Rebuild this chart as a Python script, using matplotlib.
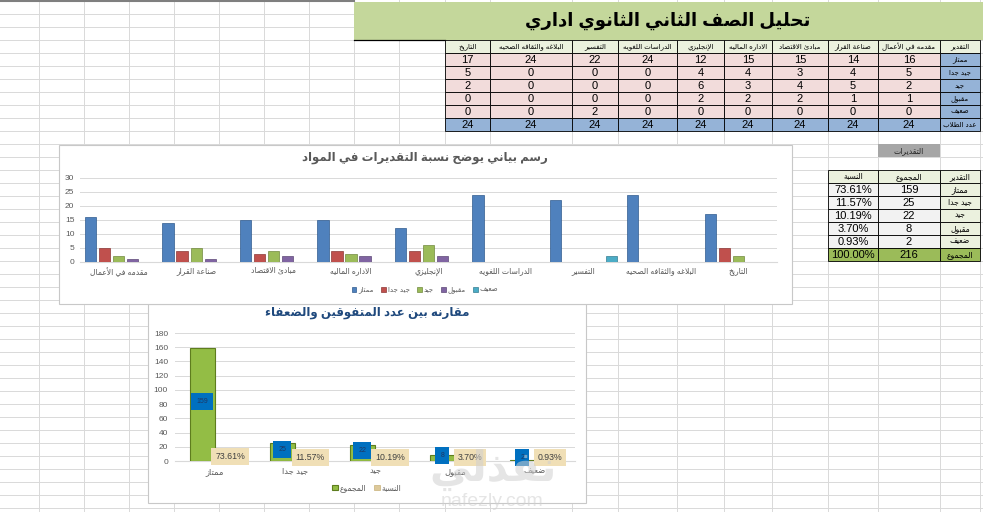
import matplotlib
matplotlib.use('Agg')
import matplotlib.pyplot as plt
from matplotlib.patches import Rectangle
import numpy as np

plt.rcParams['font.family'] = ['Liberation Sans', 'DejaVu Sans']

# البيانات
title_main = 'تحليل الصف الثاني الثانوي اداري'
subjects = ['مقدمه في الأعمال', 'صناعة القرار', 'مبادئ الاقتصاد', 'الاداره الماليه', 'الإنجليزي',
            'الدراسات اللغويه', 'التفسير', 'البلاغه والثقافه الصحيه', 'التاريخ']
grades = ['ممتاز', 'جيد جدا', 'جيد', 'مقبول', 'ضعيف']
excellent = [16, 14, 15, 15, 12, 24, 22, 24, 17]
very_good = [5, 4, 3, 4, 4, 0, 0, 0, 5]
good = [2, 5, 4, 3, 6, 0, 0, 0, 2]
passed = [1, 1, 2, 2, 2, 0, 0, 0, 0]
weak = [0, 0, 0, 0, 0, 0, 2, 0, 0]
students = [24, 24, 24, 24, 24, 24, 24, 24, 24]
students_label = 'عدد الطلاب'
grade_header = 'التقدير'

totals = [159, 25, 22, 8, 2]
total_all = 216
percents = [73.61, 11.57, 10.19, 3.70, 0.93]
percent_all = 100.00
summary_title = 'التقديرات'
summary_headers = ['النسبة', 'المجموع', 'التقدير']
total_label = 'المجموع'

chart1_title = 'رسم بياني يوضح نسبة التقديرات في المواد'
chart2_title = 'مقارنه بين عدد المتفوقين والضعفاء'
chart2_series = ['المجموع', 'النسبة']

# تشكيل الحروف العربية يدويا (لا يوجد arabic_reshaper)
FORMS = {
    'ء': (0xFE80, 1), 'آ': (0xFE81, 2), 'أ': (0xFE83, 2), 'ؤ': (0xFE85, 2), 'إ': (0xFE87, 2),
    'ئ': (0xFE89, 4), 'ا': (0xFE8D, 2), 'ب': (0xFE8F, 4), 'ة': (0xFE93, 2), 'ت': (0xFE95, 4),
    'ث': (0xFE99, 4), 'ج': (0xFE9D, 4), 'ح': (0xFEA1, 4), 'خ': (0xFEA5, 4), 'د': (0xFEA9, 2),
    'ذ': (0xFEAB, 2), 'ر': (0xFEAD, 2), 'ز': (0xFEAF, 2), 'س': (0xFEB1, 4), 'ش': (0xFEB5, 4),
    'ص': (0xFEB9, 4), 'ض': (0xFEBD, 4), 'ط': (0xFEC1, 4), 'ظ': (0xFEC5, 4), 'ع': (0xFEC9, 4),
    'غ': (0xFECD, 4), 'ف': (0xFED1, 4), 'ق': (0xFED5, 4), 'ك': (0xFED9, 4), 'ل': (0xFEDD, 4),
    'م': (0xFEE1, 4), 'ن': (0xFEE5, 4), 'ه': (0xFEE9, 4), 'و': (0xFEED, 2), 'ى': (0xFEEF, 2),
    'ي': (0xFEF1, 4),
}
LAM_ALEF = {'ا': 0xFEFB, 'أ': 0xFEF7, 'إ': 0xFEF9, 'آ': 0xFEF5}


def ar(text):
    chars = []
    i = 0
    while i < len(text):
        c = text[i]
        if c == 'ل' and i + 1 < len(text) and text[i + 1] in LAM_ALEF:
            chars.append(('LA', text[i + 1]))
            i += 2
        else:
            chars.append((c, None))
            i += 1

    def joins_next(p):
        return p is not None and p in FORMS and FORMS[p][1] == 4

    def is_letter(n):
        return n is not None and (n in FORMS or n == 'LA')

    out = []
    for j, (c, extra) in enumerate(chars):
        prev = chars[j - 1][0] if j > 0 else None
        nxt = chars[j + 1][0] if j + 1 < len(chars) else None
        if c == 'LA':
            base = LAM_ALEF[extra]
            out.append(chr(base + 1 if joins_next(prev) else base))
            continue
        if c not in FORMS:
            out.append(c)
            continue
        base, n = FORMS[c]
        jp = joins_next(prev)
        jn = n == 4 and is_letter(nxt)
        if n == 1:
            out.append(chr(base))
        elif jp and jn:
            out.append(chr(base + 3))
        elif jp:
            out.append(chr(base + 1))
        elif jn:
            out.append(chr(base + 2))
        else:
            out.append(chr(base))
    return ''.join(reversed(out))


W, H = 983, 512
fig = plt.figure(figsize=(W / 100, H / 100), dpi=100)
bg = fig.add_axes([0, 0, 1, 1])
bg.set_xlim(0, W)
bg.set_ylim(H, 0)
bg.axis('off')


def px_axes(x0, y0, x1, y1):
    return fig.add_axes([x0 / W, 1 - y1 / H, (x1 - x0) / W, (y1 - y0) / H])


# خطوط شبكة الاكسل
col_lines = [39, 84, 129, 174, 219, 264, 309, 354, 399, 445, 490, 572, 618, 677, 724, 772, 828, 878, 940, 980]
for x in col_lines:
    bg.plot([x, x], [0, H], color='#d9d9d9', lw=0.7, zorder=1)
for k in range(1, 40):
    y = 1 + 13 * k
    bg.plot([0, W], [y, y], color='#d9d9d9', lw=0.7, zorder=1)
bg.plot([0, 354], [1, 1], color='#7f7f7f', lw=1.5, zorder=1)

# شريط العنوان
bg.add_patch(Rectangle((354, 2), W - 354, 38, facecolor='#c4d79b', edgecolor='none', zorder=2))
bg.plot([354, 445], [40, 40], color='black', lw=0.9, zorder=3)
bg.text(668, 21, ar(title_main), ha='center', va='center', fontsize=13, fontweight='bold',
        color='black', zorder=4)

# الجدول الأول
edges = [980, 940, 878, 828, 772, 724, 677, 618, 572, 490, 445]
row_y = [40, 53, 66, 79, 92, 105, 118, 131]
series = [excellent, very_good, good, passed, weak]


def cell(x0, x1, y0, y1, color, text, size, tcolor='black'):
    bg.add_patch(Rectangle((x0, y0), x1 - x0, y1 - y0, facecolor=color, edgecolor='black',
                           lw=0.6, zorder=3))
    bg.text((x0 + x1) / 2, (y0 + y1) / 2 + 0.5, text, ha='center', va='center', fontsize=size,
            color=tcolor, zorder=4)


cell(edges[1], edges[0], row_y[0], row_y[1], '#ebf1de', ar(grade_header), 5)
for c, name in enumerate(subjects):
    cell(edges[c + 2], edges[c + 1], row_y[0], row_y[1], '#ebf1de', ar(name), 5)
for r, g in enumerate(grades):
    cell(edges[1], edges[0], row_y[r + 1], row_y[r + 2], '#95b3d7', ar(g), 5)
    for c in range(len(subjects)):
        cell(edges[c + 2], edges[c + 1], row_y[r + 1], row_y[r + 2], '#f2dcdb',
             str(series[r][c]), 8)
cell(edges[1], edges[0], row_y[6], row_y[7], '#95b3d7', ar(students_label), 5)
for c in range(len(subjects)):
    cell(edges[c + 2], edges[c + 1], row_y[6], row_y[7], '#95b3d7', str(students[c]), 8)

# جدول التقديرات
bg.add_patch(Rectangle((878, 144), 62, 13, facecolor='#a6a6a6', edgecolor='none', zorder=3))
bg.text(909, 151, ar(summary_title), ha='center', va='center', fontsize=5.5, color='#262626', zorder=4)
sx = [828, 878, 940, 980]
sy = [170, 183, 196, 209, 222, 235, 248, 261]
for i, hname in enumerate(summary_headers):
    cell(sx[i], sx[i + 1], sy[0], sy[1], '#ebf1de', ar(hname), 5.5)
for r, g in enumerate(grades):
    cell(sx[0], sx[1], sy[r + 1], sy[r + 2], '#f2f2f2', '%.2f%%' % percents[r], 8)
    cell(sx[1], sx[2], sy[r + 1], sy[r + 2], '#f2f2f2', str(totals[r]), 8)
    cell(sx[2], sx[3], sy[r + 1], sy[r + 2], '#ebf1de', ar(g), 5.5)
cell(sx[0], sx[1], sy[6], sy[7], '#9bbb59', '%.2f%%' % percent_all, 8)
cell(sx[1], sx[2], sy[6], sy[7], '#9bbb59', str(total_all), 8)
cell(sx[2], sx[3], sy[6], sy[7], '#9bbb59', ar(total_label), 5.5)

# صناديق الرسوم
bg.add_patch(Rectangle((148, 304), 438, 199, facecolor='white', edgecolor='#c8c8c8', lw=0.8, zorder=5))
bg.add_patch(Rectangle((59, 145), 733, 159, facecolor='white', edgecolor='#c8c8c8', lw=0.8, zorder=6))

# الرسم الأول
colors1 = ['#4f81bd', '#c0504d', '#9bbb59', '#8064a2', '#4bacc6']
edges1 = ['#2f5b8f', '#8c3836', '#71893f', '#5c4776', '#357d91']
ax1 = px_axes(80, 178, 777, 262)
ax1.set_zorder(7)
ax1.patch.set_alpha(0)
x = np.arange(len(subjects))
for i, (vals, g) in enumerate(zip(series, grades)):
    ax1.bar(x + (i - 2) * 0.181, vals, width=0.146, color=colors1[i], edgecolor=edges1[i],
            lw=0.5, label=ar(g), zorder=3)
ax1.set_xlim(-0.5, len(subjects) - 0.5)
ax1.set_ylim(0, 30)
ax1.set_yticks(range(0, 31, 5))
ax1.set_xticks(x)
ax1.set_xticklabels([ar(s) for s in subjects], fontsize=5.5)
ax1.yaxis.grid(True, color='#d9d9d9', lw=0.7, zorder=0)
for s in ['top', 'right', 'left']:
    ax1.spines[s].set_visible(False)
ax1.spines['bottom'].set_color('#d9d9d9')
ax1.tick_params(length=0, labelsize=6, colors='#595959', pad=4)
ax1.tick_params(axis='x', labelsize=5.5)
fig.text(424.5 / W, 1 - 158 / H, ar(chart1_title), ha='center', va='center', fontsize=8.5,
         fontweight='bold', color='#595959', zorder=8)
ax1.legend(loc='center', bbox_to_anchor=(425 / W, 1 - 290 / H), bbox_transform=fig.transFigure,
           ncol=5, frameon=False, fontsize=5, handlelength=0.7, handleheight=0.7,
           handletextpad=0.3, columnspacing=1.0, labelcolor='#595959')

# الرسم الثاني
ax2 = px_axes(175, 333, 575, 461)
ax2.set_zorder(6)
ax2.patch.set_alpha(0)
x2 = np.arange(len(grades))
ratio = [p / 100 for p in percents]
ax2.bar(x2 - 0.16, totals, width=0.31, color='#93bd45', edgecolor='#5e7d1e', lw=0.8,
        label=ar(chart2_series[0]), zorder=3)
ax2.bar(x2 + 0.16, ratio, width=0.31, color='#ddc99a', edgecolor='#c8b27a', lw=0.5,
        label=ar(chart2_series[1]), zorder=3)
for xi, v in zip(x2, totals):
    ax2.text(xi - 0.16, v / 2 + 4, str(v), ha='center', va='center', fontsize=5, color='#1f3864',
             zorder=5, bbox=dict(boxstyle='square,pad=0.7', facecolor='#0070c0', edgecolor='none'))
for xi, v, p in zip(x2, ratio, percents):
    ax2.text(xi + 0.19, v + 5, '%.2f%%' % p, ha='center', va='center', fontsize=6.3, color='#404040',
             zorder=5, bbox=dict(boxstyle='square,pad=0.45', facecolor='#f0dfb6', edgecolor='none'))
ax2.set_xlim(-0.5, len(grades) - 0.5)
ax2.set_ylim(0, 180)
ax2.set_yticks(range(0, 181, 20))
ax2.set_xticks(x2)
ax2.set_xticklabels([ar(g) for g in grades])
ax2.yaxis.grid(True, color='#d9d9d9', lw=0.7, zorder=0)
for s in ['top', 'right', 'left']:
    ax2.spines[s].set_visible(False)
ax2.spines['bottom'].set_color('#d9d9d9')
ax2.tick_params(length=0, labelsize=6, colors='#595959', pad=5)
fig.text(367 / W, 1 - 313 / H, ar(chart2_title), ha='center', va='center', fontsize=8.5,
         fontweight='bold', color='#1f497d', zorder=8)
ax2.legend(loc='center', bbox_to_anchor=(367 / W, 1 - 488 / H), bbox_transform=fig.transFigure,
           ncol=2, frameon=False, fontsize=5.5, handlelength=0.7, handleheight=0.7,
           handletextpad=0.3, columnspacing=1.0, labelcolor='#595959')

# العلامة المائية
fig.text(493 / W, 1 - 470 / H, ar('نفذلي'), ha='center', va='center', fontsize=30,
         fontweight='bold', color='#d0d0d0', alpha=0.55, zorder=9)
fig.text(492 / W, 1 - 502 / H, 'nafezly.com', ha='center', va='center', fontsize=14,
         color='#d0d0d0', alpha=0.55, zorder=9)

fig.savefig('out.png', dpi=100)
